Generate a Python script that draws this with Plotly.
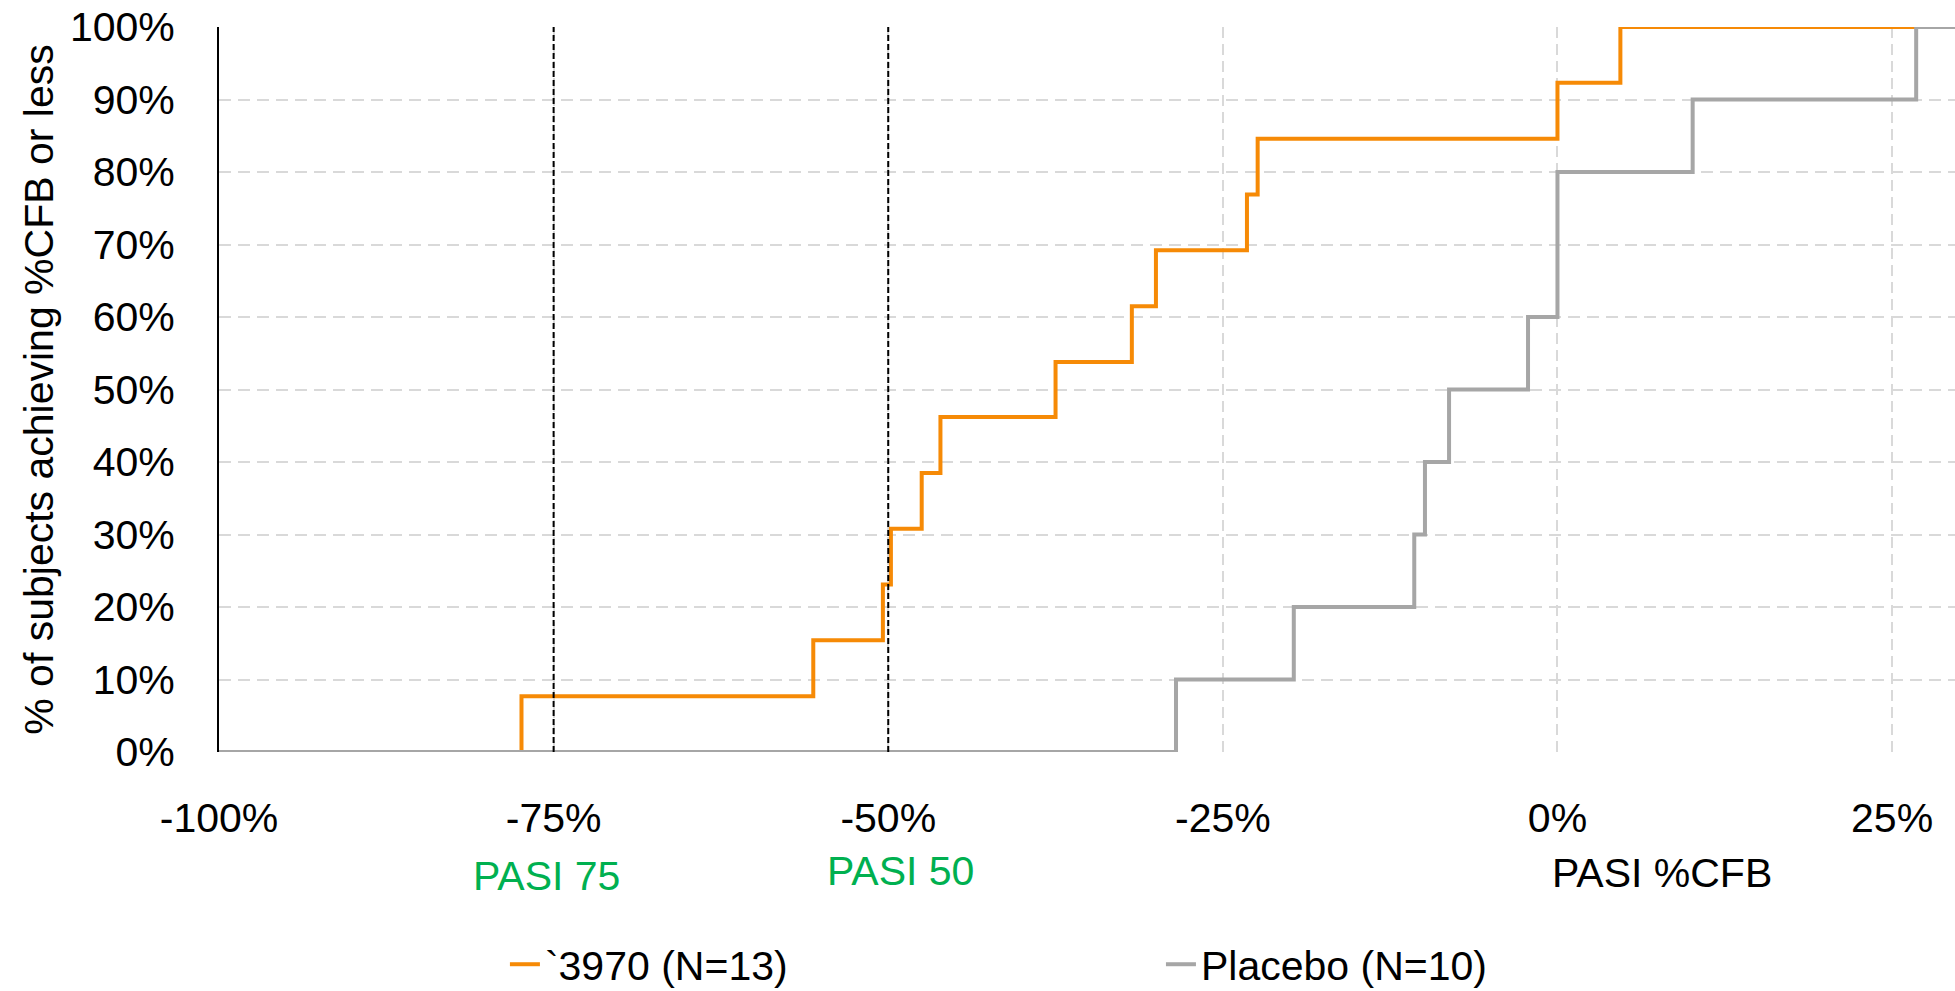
import plotly.graph_objects as go

# ---- data ----
x_ticks = [-100, -75, -50, -25, 0, 25]
x_tick_labels = ["-100%", "-75%", "-50%", "-25%", "0%", "25%"]
y_ticks = [0, 10, 20, 30, 40, 50, 60, 70, 80, 90, 100]
y_tick_labels = ["0%", "10%", "20%", "30%", "40%", "50%", "60%", "70%", "80%", "90%", "100%"]

x_range = [-100, 29.7]

drug_name = "`3970 (N=13)"
drug_x = [-100, -77.4, -55.6, -50.4, -49.8, -47.5, -46.1, -37.5, -31.8, -30.0, -23.2, -22.4, 0.0, 4.7, 26.8]
drug_y = [0, 7.7, 15.4, 23.1, 30.8, 38.5, 46.2, 53.8, 61.5, 69.2, 76.9, 84.6, 92.3, 100, 100]

placebo_name = "Placebo (N=10)"
placebo_x = [-100, -28.5, -19.7, -10.7, -9.9, -8.1, -2.2, 0.0, 10.1, 26.8, 29.7]
placebo_y = [0, 10, 20, 30, 40, 50, 60, 80, 90, 100, 100]

pasi_thresholds = [-75, -50]
pasi_labels = ["PASI 75", "PASI 50"]
x_title = "PASI %CFB"
y_title = "% of subjects achieving %CFB or less"

FONT = "Liberation Sans, Arial, sans-serif"
FS = 41
ORANGE = "#F68A06"
GRAY = "#A6A6A6"
GREEN = "#00B050"

fig = go.Figure()
fig.add_trace(go.Scatter(x=drug_x, y=drug_y, mode="lines", line_shape="hv",
                         line=dict(color=ORANGE, width=4), name=drug_name,
                         legend="legend"))
fig.add_trace(go.Scatter(x=placebo_x, y=placebo_y, mode="lines", line_shape="hv",
                         line=dict(color=GRAY, width=4), name=placebo_name,
                         legend="legend2"))

for t in pasi_thresholds:
    fig.add_shape(type="line", xref="x", yref="y", x0=t, x1=t, y0=0, y1=100,
                  line=dict(color="black", width=2, dash="6px,3px"), layer="above")

offsets = [-0.5, 0.9]
ys = [-0.171, -0.164]
for t, lab, dx, yy in zip(pasi_thresholds, pasi_labels, offsets, ys):
    fig.add_annotation(x=t + dx, y=yy, xref="x", yref="paper", text=lab,
                       showarrow=False, font=dict(family=FONT, size=FS, color=GREEN),
                       xanchor="center", yanchor="middle")

fig.add_annotation(x=7.8, y=-0.167, xref="x", yref="paper", text=x_title,
                   showarrow=False, font=dict(family=FONT, size=FS, color="black"),
                   xanchor="center", yanchor="middle")

fig.update_xaxes(range=x_range, tickvals=x_ticks, ticktext=x_tick_labels,
                 showgrid=True, gridcolor="#D9D9D9", gridwidth=1.5, griddash="11px,6px",
                 zeroline=False, showline=False, ticks="",
                 ticklabelstandoff=38,
                 tickfont=dict(family=FONT, size=FS, color="black"))
fig.update_yaxes(range=[0, 100], tickvals=y_ticks, ticktext=y_tick_labels,
                 showgrid=True, gridcolor="#D9D9D9", gridwidth=1.5, griddash="12px,7px",
                 zeroline=False, showline=True, linecolor="black", linewidth=2,
                 ticks="", ticklabelstandoff=34,
                 tickfont=dict(family=FONT, size=FS, color="black"),
                 title=dict(text=y_title, standoff=4,
                            font=dict(family=FONT, size=FS, color="black")))

legend_common = dict(orientation="h", xanchor="left", yanchor="middle",
                     font=dict(family=FONT, size=FS, color="black"),
                     bgcolor="rgba(0,0,0,0)", borderwidth=0)
fig.update_layout(
    width=1955, height=991,
    margin=dict(l=219, r=0, t=27, b=239, autoexpand=False),
    paper_bgcolor="white", plot_bgcolor="white",
    showlegend=True,
    legend=dict(x=0.1647, y=-0.2932, **legend_common),
    legend2=dict(x=0.5426, y=-0.2932, **legend_common),
)

fig.write_html("out.html")
